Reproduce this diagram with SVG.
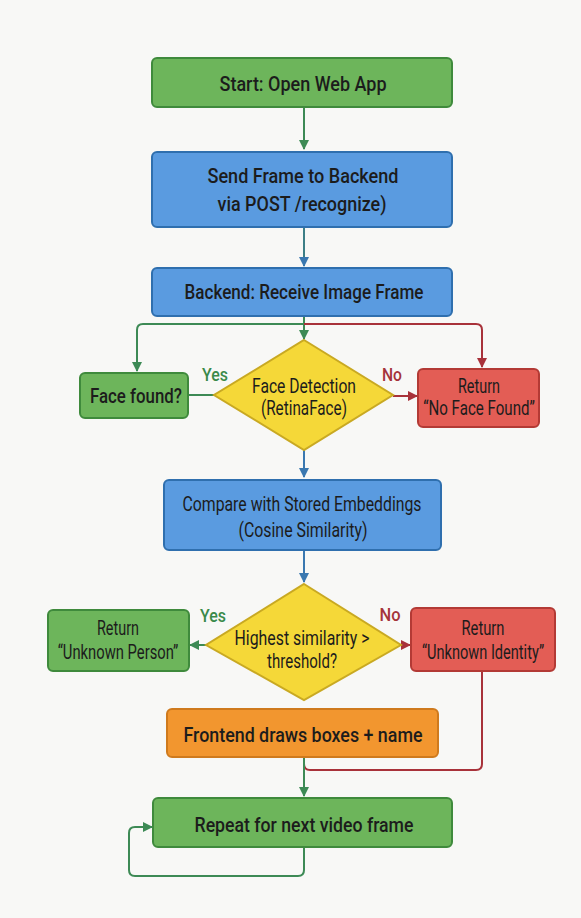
<svg xmlns="http://www.w3.org/2000/svg" width="581" height="918" viewBox="0 0 581 918">
<style>
text{font-family:Roboto,"Liberation Sans",sans-serif;fill:#1c1c1c;text-anchor:middle;font-size:21px;font-weight:500}
.s{font-size:20px;font-weight:400}
.m{font-size:20.5px;font-weight:400}
.g{fill:#6db55b;stroke:#3f8a3c;stroke-width:2}
.b{fill:#5a9be0;stroke:#2f6fae;stroke-width:2}
.r{fill:#e35d55;stroke:#b33a35;stroke-width:2}
.y{fill:#f5d838;stroke:#c9a922;stroke-width:2}
.o{fill:#f2962f;stroke:#cf7a1d;stroke-width:2}
.c{fill:none;stroke-width:2;stroke-linejoin:round}
.cg{stroke:#3d8a55}
.cb{stroke:#3a78b0}
.cr{stroke:#a8323a}
.lg{fill:#3a8a4a;font-size:19px}
.lr{fill:#a5343a;font-size:19px}
</style>
<defs>
<marker id="ag" viewBox="0 0 10 10" refX="9" refY="5" markerWidth="5" markerHeight="5" orient="auto"><path d="M0,0L10,5L0,10z" fill="#3d8a55"/></marker>
<marker id="ab" viewBox="0 0 10 10" refX="9" refY="5" markerWidth="5" markerHeight="5" orient="auto"><path d="M0,0L10,5L0,10z" fill="#3a78b0"/></marker>
<marker id="ar" viewBox="0 0 10 10" refX="9" refY="5" markerWidth="5" markerHeight="5" orient="auto"><path d="M0,0L10,5L0,10z" fill="#a8323a"/></marker>
</defs>
<rect width="581" height="918" fill="#f8f8f6"/>
<g id="connectors">
<path class="c cg" d="M304,107V149" marker-end="url(#ag)"/>
<path class="c cb" d="M304,227V266" marker-end="url(#ab)" style="stroke:#3d7f86"/>
<path class="c cg" d="M304,316V339" marker-end="url(#ag)"/>
<path class="c cg" d="M304,324H143Q137,324 137,330V371" marker-end="url(#ag)"/>
<path class="c cr" d="M304,324H476Q482,324 482,330V367" marker-end="url(#ar)"/>
<path class="c cg" d="M214,395H188"/>
<path class="c cr" d="M393,396H417" marker-end="url(#ar)"/>
<path class="c cb" d="M304,450V477" marker-end="url(#ab)"/>
<path class="c cb" d="M304,550V582" marker-end="url(#ab)"/>
<path class="c cg" d="M206,645H190" marker-end="url(#ag)"/>
<path class="c cr" d="M401,645H410" marker-end="url(#ar)"/>
<path class="c cr" d="M482,671V764Q482,770 476,770H310Q304,770 304,764V757"/>
<path class="c cg" d="M304,757V796" marker-end="url(#ag)"/>
<path class="c cg" d="M304,847V870Q304,876 298,876H135Q129,876 129,870V833Q129,827 135,827H152" marker-end="url(#ag)"/>
</g>
<g id="start"><rect class="g" x="152" y="58" width="300" height="49" rx="5"/><text x="303" y="91" textLength="167" lengthAdjust="spacingAndGlyphs">Start: Open Web App</text></g>
<g id="send"><rect class="b" x="152" y="152" width="300" height="75" rx="5"/><text x="303" y="183" textLength="191" lengthAdjust="spacingAndGlyphs">Send Frame to Backend</text><text x="302" y="211" textLength="169" lengthAdjust="spacingAndGlyphs">via POST /recognize)</text></g>
<g id="backend"><rect class="b" x="152" y="268" width="300" height="48" rx="5"/><text x="304" y="299" textLength="239" lengthAdjust="spacingAndGlyphs">Backend: Receive Image Frame</text></g>
<g id="facefound"><rect class="g" x="80" y="373" width="108" height="45" rx="5"/><text x="136" y="403" textLength="92" lengthAdjust="spacingAndGlyphs">Face found?</text></g>
<g id="facedetect"><path class="y" d="M304,340L393,395L304,450L214,395Z"/><text class="s" x="304" y="393" textLength="104" lengthAdjust="spacingAndGlyphs">Face Detection</text><text class="s" x="304" y="415" textLength="86" lengthAdjust="spacingAndGlyphs">(RetinaFace)</text><text class="lg" x="215" y="381" textLength="26" lengthAdjust="spacingAndGlyphs">Yes</text><text class="lr" x="392" y="381" textLength="20" lengthAdjust="spacingAndGlyphs">No</text></g>
<g id="noface"><rect class="r" x="418" y="369" width="121" height="58" rx="5"/><text class="s" x="479" y="393" textLength="42" lengthAdjust="spacingAndGlyphs">Return</text><text class="s" transform="translate(479,415) scale(0.75,1)" x="0" y="0" textLength="149" lengthAdjust="spacingAndGlyphs">“No Face Found”</text></g>
<g id="compare"><rect class="b" x="164" y="480" width="277" height="70" rx="5"/><text class="m" x="302" y="511" textLength="239" lengthAdjust="spacingAndGlyphs">Compare with Stored Embeddings</text><text class="m" x="303" y="537" textLength="129" lengthAdjust="spacingAndGlyphs">(Cosine Similarity)</text></g>
<g id="threshold"><path class="y" d="M304,584L401,645L304,700L206,645Z"/><text class="m" x="302" y="645" textLength="135" lengthAdjust="spacingAndGlyphs">Highest similarity &gt;</text><text class="m" x="302" y="668" textLength="70" lengthAdjust="spacingAndGlyphs">threshold?</text><text class="lg" x="213" y="622" textLength="26" lengthAdjust="spacingAndGlyphs">Yes</text><text class="lr" x="390" y="621" textLength="21" lengthAdjust="spacingAndGlyphs">No</text></g>
<g id="unknownperson"><rect class="g" x="48" y="610" width="141" height="61" rx="5"/><text class="s" x="118" y="635" textLength="42" lengthAdjust="spacingAndGlyphs">Return</text><text class="s" transform="translate(118,659) scale(0.75,1)" x="0" y="0" textLength="161" lengthAdjust="spacingAndGlyphs">“Unknown Person”</text></g>
<g id="unknownidentity"><rect class="r" x="411" y="608" width="144" height="63" rx="5"/><text class="s" x="483" y="635" textLength="43" lengthAdjust="spacingAndGlyphs">Return</text><text class="s" transform="translate(483,659) scale(0.75,1)" x="0" y="0" textLength="163" lengthAdjust="spacingAndGlyphs">“Unknown Identity”</text></g>
<g id="frontend"><rect class="o" x="167" y="709" width="271" height="48" rx="5"/><text x="303" y="742" textLength="239" lengthAdjust="spacingAndGlyphs">Frontend draws boxes + name</text></g>
<g id="repeat"><rect class="g" x="153" y="798" width="299" height="49" rx="5"/><text x="304" y="832" textLength="219" lengthAdjust="spacingAndGlyphs">Repeat for next video frame</text></g>
</svg>
